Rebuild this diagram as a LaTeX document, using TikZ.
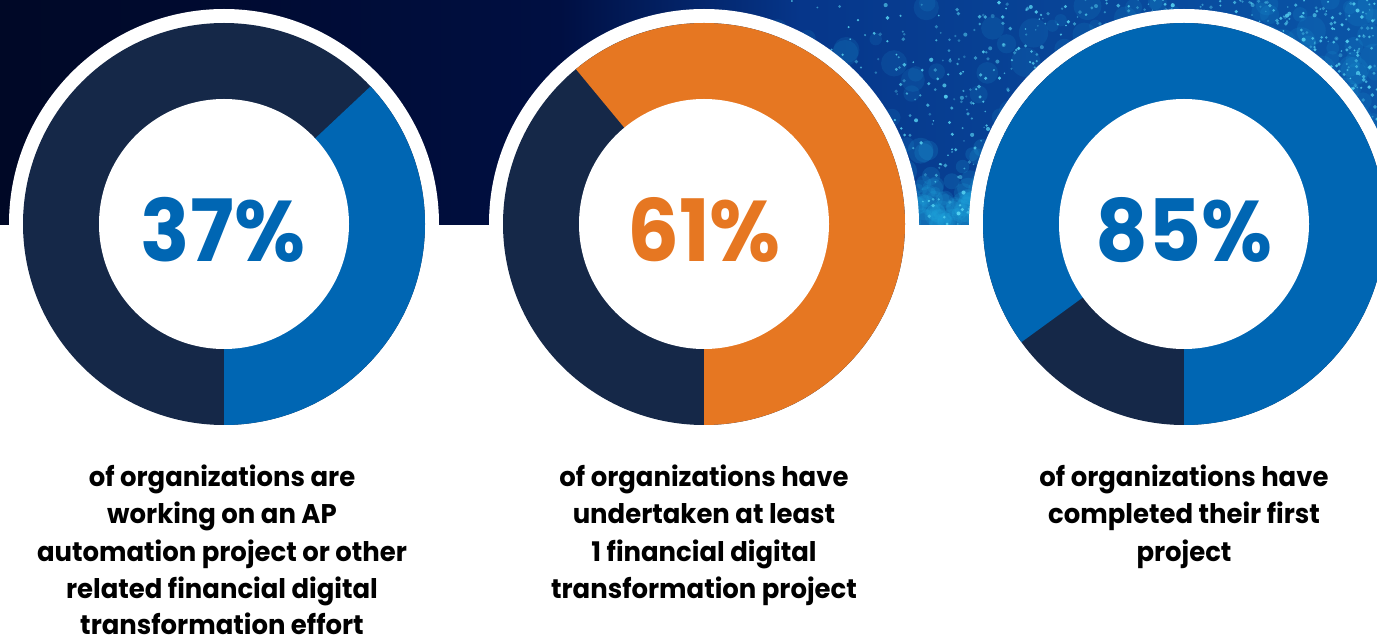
\documentclass[tikz,border=0pt]{standalone}
\usepackage{fontspec}
\setmainfont{Poppins}
\newfontfamily\bigfont[FakeStretch=0.95]{Poppins}
\newfontfamily\capfont[FakeStretch=0.96]{Poppins}
\usetikzlibrary{calc}
\definecolor{navyseg}{HTML}{152848}
\definecolor{blueseg}{HTML}{0066B3}
\definecolor{orangeseg}{HTML}{E67722}
\definecolor{bandA}{HTML}{000826}
\definecolor{bandB}{HTML}{000F42}
\definecolor{bandC}{HTML}{06368A}
\definecolor{bandD}{HTML}{0A56A8}
\definecolor{dotcol}{HTML}{5AD8F5}
\definecolor{glowcol}{HTML}{1FA6DE}
\tikzset{
  pct/.style={font=\bigfont\bfseries\fontsize{86}{86}\selectfont, anchor=base, inner sep=0pt},
  capt/.style={font=\capfont\bfseries\fontsize{27}{37}\selectfont, anchor=base, inner sep=0pt, text=black},
}
\begin{document}
\begin{tikzpicture}[x=1pt,y=1pt]
\useasboundingbox (0,0) rectangle (1377,638);
\fill[white] (0,0) rectangle (1377,638);
% top band
\shade[left color=bandA, right color=bandB] (0,413) rectangle (560,638);
\shade[left color=bandB, right color=bandC] (560,413) rectangle (800,638);
\shade[left color=bandC, right color=bandD] (800,413) rectangle (1377,638);
\begin{scope}
\clip (740,413) rectangle (1377,638);
\pgfmathsetseed{11}
% soft glows
\foreach \i in {1,...,260}{
  \pgfmathsetmacro\px{760+617*sqrt(rnd)}
  \pgfmathsetmacro\py{413+225*rnd}
  \pgfmathsetmacro\rr{6+9*rnd}
  \fill[glowcol, opacity=0.13] (\px,\py) circle (\rr);
}
% brighter glow low, between donuts 2 and 3
\foreach \i in {1,...,90}{
  \pgfmathsetmacro\px{900+90*rnd}
  \pgfmathsetmacro\py{413+110*rnd*rnd}
  \pgfmathsetmacro\rr{5+8*rnd}
  \fill[glowcol, opacity=0.18] (\px,\py) circle (\rr);
}
% particles
\foreach \i in {1,...,1300}{
  \pgfmathsetmacro\px{770+607*sqrt(rnd)}
  \pgfmathsetmacro\py{413+225*rnd}
  \pgfmathsetmacro\op{0.3+0.6*rnd}
  \pgfmathsetmacro\rr{0.8+1.3*rnd}
  \fill[dotcol, opacity=\op] (\px,\py) circle (\rr);
}
\end{scope}
% centers
\coordinate (c1) at (224,414);
\coordinate (c2) at (704,414);
\coordinate (c3) at (1184,414);
% white rings
\foreach \c in {c1,c2,c3}{\fill[white] (\c) circle (215);}
% donut 1
\fill[navyseg] (c1) circle (201);
\fill[blueseg] (c1) -- ++(-90:201) arc[start angle=-90, end angle=43.2, radius=201] -- cycle;
% donut 2
\fill[navyseg] (c2) circle (201);
\fill[orangeseg] (c2) -- ++(-90:201) arc[start angle=-90, end angle=129.6, radius=201] -- cycle;
% donut 3
\fill[navyseg] (c3) circle (201);
\fill[blueseg] (c3) -- ++(-90:201) arc[start angle=-90, end angle=216, radius=201] -- cycle;
\foreach \c in {c1,c2,c3}{\fill[white] (\c) circle (125);}
% percentages
\node[pct, text=blueseg] (p1) at (223,376) {37\%};
\node[pct, text=orangeseg] (p2) at (704,376) {61\%};
\node[pct, text=blueseg] (p3) at (1184,376) {85\%};
% captions
\node[capt] (t1a) at (222,151) {of organizations are};
\node[capt] (t1b) at (222,114) {working on an AP};
\node[capt] (t1c) at (222,77) {automation project or other};
\node[capt] (t1d) at (222,40) {related financial digital};
\node[capt] (t1e) at (222,4) {transformation effort};
\node[capt] (t2a) at (704,151) {of organizations have};
\node[capt] (t2b) at (704,114) {undertaken at least};
\node[capt] (t2c) at (704,77) {1 financial digital};
\node[capt] (t2d) at (704,40) {transformation project};
\node[capt] (t3a) at (1184,151) {of organizations have};
\node[capt] (t3b) at (1184,114) {completed their first};
\node[capt] (t3c) at (1184,77) {project};
\end{tikzpicture}
\end{document}
